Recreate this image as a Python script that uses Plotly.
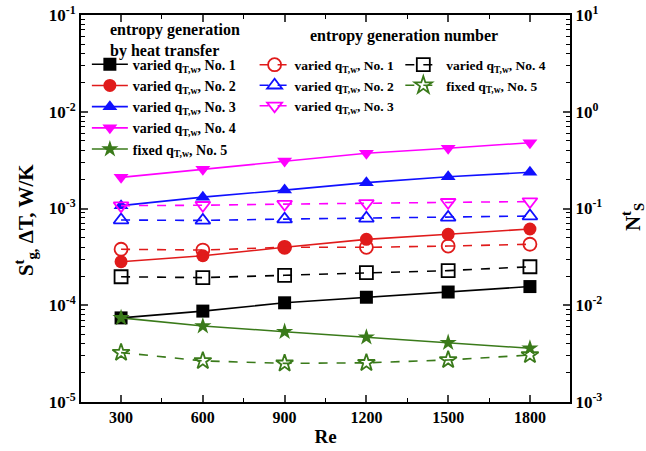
import plotly.graph_objects as go

Re = [300, 600, 900, 1200, 1500, 1800]

# entropy generation by heat transfer (left axis, W/K)
sg_no1 = [7.4e-5, 8.7e-5, 1.06e-4, 1.21e-4, 1.37e-4, 1.56e-4]
sg_no2 = [2.82e-4, 3.25e-4, 3.97e-4, 4.80e-4, 5.41e-4, 6.14e-4]
sg_no3 = [1.07e-3, 1.31e-3, 1.55e-3, 1.85e-3, 2.13e-3, 2.37e-3]
sg_no4 = [2.10e-3, 2.54e-3, 3.10e-3, 3.72e-3, 4.19e-3, 4.79e-3]
sg_no5 = [7.4e-5, 6.1e-5, 5.33e-5, 4.67e-5, 4.10e-5, 3.59e-5]

# entropy generation number (right axis)
ns_no1 = [0.0379, 0.0372, 0.0397, 0.0397, 0.0409, 0.0427]
ns_no2 = [0.0760, 0.0753, 0.0777, 0.0792, 0.0810, 0.0836]
ns_no3 = [0.107, 0.108, 0.111, 0.113, 0.116, 0.118]
ns_no4 = [0.0197, 0.0193, 0.0204, 0.0217, 0.0228, 0.0250]
ns_no5 = [0.00324, 0.00266, 0.00251, 0.00254, 0.00272, 0.00306]

names = ["varied q<sub>T,w</sub>, No. 1", "varied q<sub>T,w</sub>, No. 2",
         "varied q<sub>T,w</sub>, No. 3", "varied q<sub>T,w</sub>, No. 4",
         "fixed q<sub>T,w</sub>, No. 5"]

left_ticks = [1e-5, 1e-4, 1e-3, 1e-2, 1e-1]
left_text = ["10<sup>-5</sup>", "10<sup>-4</sup>", "10<sup>-3</sup>", "10<sup>-2</sup>", "10<sup>-1</sup>"]
right_ticks = [1e-3, 1e-2, 1e-1, 1e0, 1e1]
right_text = ["10<sup>-3</sup>", "10<sup>-2</sup>", "10<sup>-1</sup>", "10<sup>0</sup>", "10<sup>1</sup>"]

BLACK = "#000000"
RED = "#e01b1b"
BLUE = "#1010ff"
MAG = "#ff00ff"
GREEN = "#3a7a1a"

FONT = "Liberation Serif"

fig = go.Figure()

solid = [(sg_no1, BLACK, "square"), (sg_no2, RED, "circle"), (sg_no3, BLUE, "triangle-up"),
         (sg_no4, MAG, "triangle-down"), (sg_no5, GREEN, "star")]
for (vals, col, sym), nm in zip(solid, names):
    fig.add_trace(go.Scatter(x=Re, y=vals, name=nm, mode="lines+markers",
                             line=dict(color=col, width=1.6),
                             marker=dict(symbol=sym, size=13, color=col),
                             legend="legend", yaxis="y"))

dashed = [(ns_no1, RED, "circle-open", names[0], "legend2"),
          (ns_no2, BLUE, "triangle-up-open", names[1], "legend2"),
          (ns_no3, MAG, "triangle-down-open", names[2], "legend2"),
          (ns_no4, BLACK, "square-open", names[3], "legend3"),
          (ns_no5, GREEN, "star-open", names[4], "legend3")]
for vals, col, sym, nm, lg in dashed:
    fig.add_trace(go.Scatter(x=Re, y=vals, name=nm, mode="lines+markers",
                             line=dict(color=col, width=1.6, dash="dash"),
                             marker=dict(symbol=sym, size=13, color=col, line=dict(width=1.8, color=col)),
                             legend=lg, yaxis="y2"))

minor_left = [k * 10.0 ** e for e in range(-5, -1) for k in range(2, 10)]
minor_right = [k * 10.0 ** e for e in range(-3, 1) for k in range(2, 10)]

tickfont_y = dict(family=FONT, size=17, color="black", weight="bold")
legfont1 = dict(family=FONT, size=14, color="black", weight="bold")
legfont2 = dict(family=FONT, size=13.5, color="black", weight="bold")

fig.update_layout(
    width=646, height=451,
    margin=dict(l=81, r=76, t=15, b=49, autoexpand=False),
    paper_bgcolor="white", plot_bgcolor="white",
    font=dict(family=FONT, size=14, color="black"),
    xaxis=dict(range=[153, 1947], tickvals=Re, ticktext=[str(r) for r in Re],
               ticks="inside", ticklen=7, tickwidth=1.5, showline=True, linewidth=2,
               linecolor="black", mirror="ticks", showgrid=False, zeroline=False,
               tickfont=dict(family=FONT, size=16, color="black", weight="bold"),
               minor=dict(tickvals=[450, 750, 1050, 1350, 1650], ticks="inside", ticklen=4,
                          tickwidth=1.2, tickcolor="black", showgrid=False),
               title=dict(text="<b>Re</b>", font=dict(family=FONT, size=19), standoff=4)),
    yaxis=dict(type="log", range=[-5, -1], tickvals=left_ticks, ticktext=left_text,
               ticks="inside", ticklen=7, tickwidth=1.5, showline=True, linewidth=2,
               linecolor="black", mirror=False, showgrid=False, zeroline=False,
               tickfont=tickfont_y,
               minor=dict(tickvals=minor_left, ticks="inside", ticklen=4, tickwidth=1.2,
                          tickcolor="black", showgrid=False)),
    yaxis2=dict(type="log", range=[-3, 1], overlaying="y", side="right",
                tickvals=right_ticks, ticktext=right_text,
                ticks="inside", ticklen=7, tickwidth=1.5, showline=True, linewidth=2,
                linecolor="black", showgrid=False, zeroline=False,
                tickfont=tickfont_y,
                minor=dict(tickvals=minor_right, ticks="inside", ticklen=4, tickwidth=1.2,
                           tickcolor="black", showgrid=False)),
    legend=dict(x=0.012, y=0.913, xanchor="left", yanchor="top", bgcolor="rgba(0,0,0,0)",
                font=legfont1, tracegroupgap=0, itemwidth=36),
    legend2=dict(x=0.355, y=0.911, xanchor="left", yanchor="top", bgcolor="rgba(0,0,0,0)",
                 font=legfont2, tracegroupgap=0, itemwidth=30),
    legend3=dict(x=0.653, y=0.911, xanchor="left", yanchor="top", bgcolor="rgba(0,0,0,0)",
                 font=legfont2, tracegroupgap=0, itemwidth=36),
    annotations=[
        dict(text="<b>entropy generation<br>by heat transfer</b>", x=0.0552, y=0.9354,
             xref="paper", yref="paper", showarrow=False, align="left",
             font=dict(family=FONT, size=16), xanchor="left", yanchor="middle"),
        dict(text="<b>entropy generation number</b>", x=0.66, y=0.946,
             xref="paper", yref="paper", showarrow=False,
             font=dict(family=FONT, size=16), xanchor="center", yanchor="middle"),
        dict(text="<b>S<sup>t</sup><sub>g,</sub> ΔT, W/K</b>", x=-0.1145, y=0.47,
             xref="paper", yref="paper", showarrow=False, textangle=-90,
             font=dict(family=FONT, size=21), xanchor="center", yanchor="middle"),
        dict(text="<b>N<sup>t</sup><sub>S</sub></b>", x=1.127, y=0.478,
             xref="paper", yref="paper", showarrow=False, textangle=-90,
             font=dict(family=FONT, size=21), xanchor="center", yanchor="middle"),
    ],
    showlegend=True,
)

fig.write_html("out.html")
